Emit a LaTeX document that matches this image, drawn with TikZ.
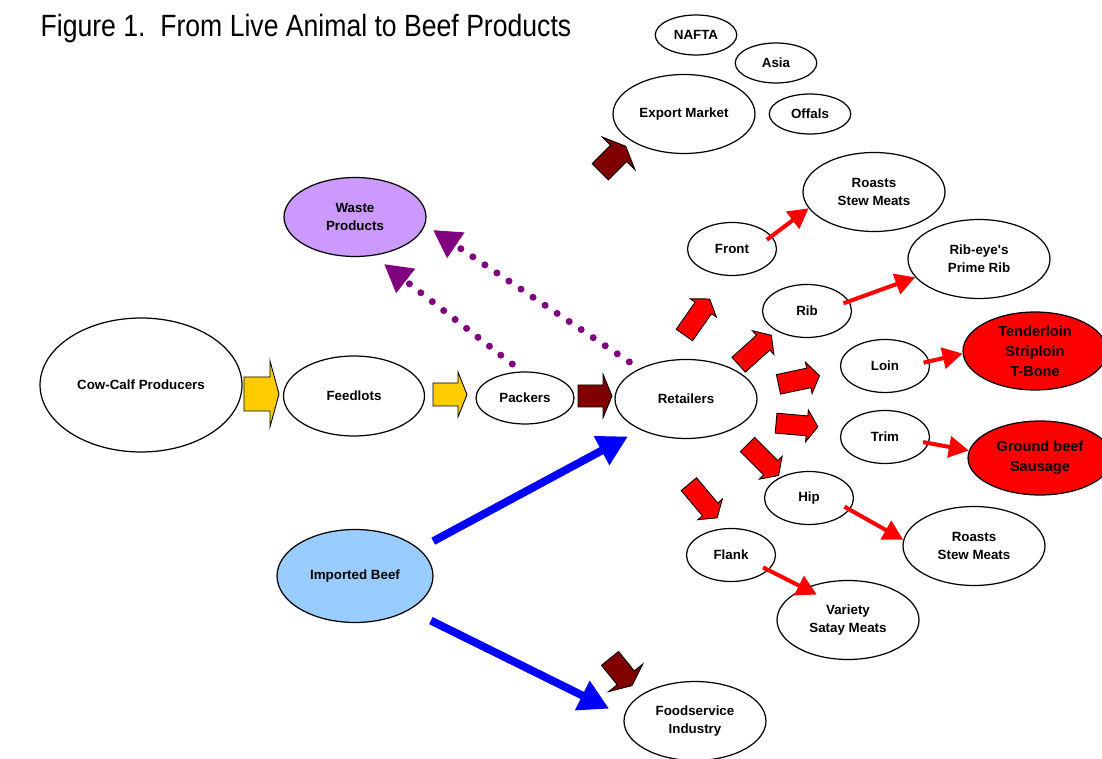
\documentclass[tikz,border=0pt]{standalone}
\usepackage{fontspec}
\setmainfont{Liberation Sans}
\newfontfamily\titlefont{Liberation Sans}[FakeStretch=0.865]
\usepackage{tikz}
\usetikzlibrary{arrows.meta,shapes.geometric}

\definecolor{feedgold}{HTML}{FFCC00}
\definecolor{packred}{HTML}{800000}
\definecolor{cutred}{HTML}{FF0000}
\definecolor{importblue}{HTML}{0000FF}
\definecolor{importfill}{HTML}{99CCFF}
\definecolor{wastepurple}{HTML}{800080}
\definecolor{wastefill}{HTML}{CC99FF}

\tikzset{
  pics/fatarrow/.style n args={4}{code={%
    \filldraw[line width=0.5pt] (-#1/2,-#2/2) -- (#1/2-#4,-#2/2) -- (#1/2-#4,-#3/2) -- (#1/2,0)
      -- (#1/2-#4,#3/2) -- (#1/2-#4,#2/2) -- (-#1/2,#2/2) -- cycle;}}
}

\begin{document}
\begin{tikzpicture}[x=0.02cm,y=0.02cm,
  every node/.style={ellipse,draw,line width=0.7pt,align=center,inner sep=0pt,
    font=\fontsize{7.6}{10.2}\selectfont\bfseries},
  big/.style={minimum width=2.84cm,minimum height=1.58cm},
  mid/.style={minimum width=1.78cm,minimum height=1.06cm},
  tiny/.style={minimum width=1.63cm,minimum height=0.8cm},
  meatnode/.style={fill=cutred,font=\fontsize{8.3}{11.4}\selectfont\bfseries},
  cutarrow/.style={cutred,line width=2.3pt,shorten <=-0.12cm,
    -{Triangle[length=0.4cm,width=0.42cm]}},
  importarrow/.style={importblue,line width=4.5pt,-{Triangle[length=0.6cm,width=0.62cm]}},
  wasteflow/.style={wastepurple,line width=0.14cm,line cap=round,
    dash pattern=on 0pt off 0.29cm,-{Triangle[length=0.55cm,width=0.58cm]}}]
  \useasboundingbox (0,0) rectangle (1102,-759);

  \node[draw=none,rectangle,anchor=base west,font=\titlefont\fontsize{17.5}{20}\selectfont]
    (title) at (40,-37) {Figure 1.\ \ From Live Animal to Beef Products};

  % supply chain
  \node[minimum width=4.04cm,minimum height=2.68cm] (cowcalf) at (141,-385) {Cow-Calf Producers};
  \node[minimum width=2.82cm,minimum height=1.6cm] (feedlots) at (354,-396) {Feedlots};
  \node[minimum width=1.96cm,minimum height=1.04cm] (packers) at (525,-398) {Packers};
  \node[big] (retailers) at (686,-399) {Retailers};
  \node[big,fill=wastefill] (waste) at (355,-217) {Waste\\Products};
  \node[minimum width=3.12cm,minimum height=1.86cm,fill=importfill] (imported) at (355,-576) {Imported Beef};
  \node[big] (foodservice) at (695,-721) {Foodservice\\Industry};

  % export
  \node[big] (export) at (684,-114) {Export Market};
  \node[tiny] (nafta) at (696,-35) {NAFTA};
  \node[tiny] (asia) at (776,-63) {Asia};
  \node[tiny] (offals) at (810,-114) {Offals};

  % cuts
  \node[mid] (front) at (732,-249) {Front};
  \node[mid] (rib) at (807,-311) {Rib};
  \node[mid] (loin) at (885,-366) {Loin};
  \node[mid] (trim) at (885,-437) {Trim};
  \node[mid] (hip) at (809,-498) {Hip};
  \node[mid] (flank) at (731,-555) {Flank};

  % products
  \node[big] (roastsA) at (874,-192) {Roasts\\Stew Meats};
  \node[big] (ribeye) at (979,-259) {Rib-eye\textquotesingle s\\Prime Rib};
  \node[big,meatnode,minimum width=2.88cm,minimum height=1.56cm] (tender) at (1035,-351) {Tenderloin\\Striploin\\T-Bone};
  \node[big,meatnode,minimum width=2.88cm,minimum height=1.48cm] (ground) at (1040,-458) {Ground beef\\Sausage};
  \node[big] (roastsB) at (974,-546) {Roasts\\Stew Meats};
  \node[big] (variety) at (848,-620) {Variety\\Satay Meats};

  % block arrows
  \pic[fill=feedgold] at (261.5,-394) {fatarrow={35}{34}{66}{9}};
  \pic[fill=feedgold] at (450,-394.5) {fatarrow={34}{23}{45}{9}};
  \pic[fill=packred] at (595,-396) {fatarrow={34}{22}{44}{9}};
  \pic[fill=packred,rotate=45] at (613,-159) {fatarrow={36}{23}{46}{10}};
  \pic[fill=packred,rotate=-51] at (621,-672) {fatarrow={35}{22}{44}{10}};
  \pic[fill=cutred,rotate=55] at (697,-317) {fatarrow={44}{20}{32}{11}};
  \pic[fill=cutred,rotate=42] at (755,-350) {fatarrow={44}{20}{32}{11}};
  \pic[fill=cutred,rotate=12] at (799,-380) {fatarrow={42}{20}{32}{11}};
  \pic[fill=cutred,rotate=-5] at (797,-425) {fatarrow={42}{20}{32}{11}};
  \pic[fill=cutred,rotate=-45] at (763,-460) {fatarrow={44}{20}{32}{11}};
  \pic[fill=cutred,rotate=-50] at (703,-501) {fatarrow={44}{20}{32}{11}};

  % cut to product
  \draw[cutarrow] (front.18) -- (roastsA.194);
  \draw[cutarrow] (rib.13) -- (ribeye.196);
  \draw[cutarrow] (loin.6) -- (tender.182);
  \draw[cutarrow] (trim.-8) -- (ground.174);
  \draw[cutarrow] (hip.-16) -- (roastsB.175);
  \draw[cutarrow,shorten >=-0.28cm] (flank.-22) -- (variety.144);

  % imports
  \draw[importarrow,shorten <=0.32cm,shorten >=0.28cm] (imported.23.6) -- (retailers.214.9);
  \draw[importarrow,shorten <=0.48cm,shorten >=0.33cm] (imported.-32.4) -- (foodservice.176);

  % waste
  \coordinate (wasteA) at (433,-230);
  \coordinate (wasteB) at (384,-264);
  \draw[wasteflow,shorten <=0.24cm] (retailers.147.7) -- (wasteA);
  \draw[wasteflow,shorten <=0.24cm] (packers.97.5) -- (wasteB);
\end{tikzpicture}
\end{document}
